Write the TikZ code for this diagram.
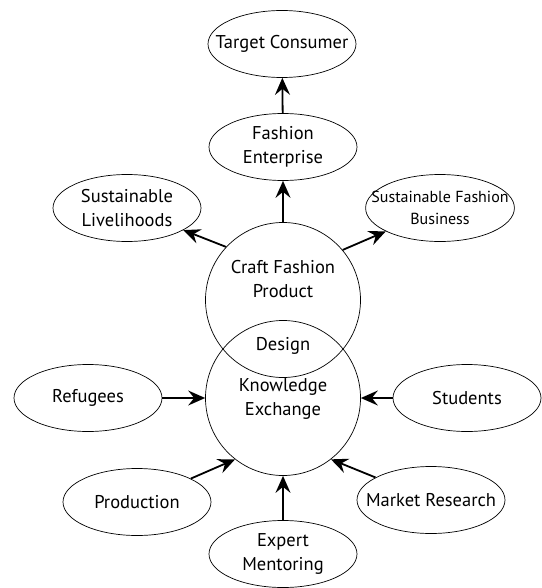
\documentclass[tikz,border=0pt]{standalone}
\usepackage{fontspec}
\setmainfont{PT Sans}
\usetikzlibrary{arrows.meta}
\usetikzlibrary{shapes.geometric, positioning}

\begin{document}
\begin{tikzpicture}[x=1pt,y=-1pt,
    oval node/.style={draw,ellipse,line width=0.7pt,minimum width=148pt,minimum height=67pt,inner xsep=-16pt,inner ysep=-2pt,align=center,font=\fontsize{18.5}{24}\selectfont},
    ring node/.style={draw,circle,line width=0.7pt,minimum size=155pt,inner sep=0pt},
    text node/.style={align=center,font=\fontsize{18.5}{24}\selectfont},
    flow/.style={-{Stealth[length=17pt,width=15pt,inset=6pt]},line width=1.8pt}]
    \useasboundingbox (0,0) rectangle (541,588);

    \node[ring node](cfp) at (283,300) {};
    \node[ring node](ke) at (283,398) {};
    \node[text node](cfptext) at (283,279) {Craft Fashion\\Product};
    \node[text node](design) at (283,346) {Design};
    \node[text node](ketext) at (283,399) {Knowledge\\Exchange};

    \node[oval node](tc) at (282,44) {Target Consumer};
    \node[oval node](fe) at (283,147) {Fashion\\Enterprise};
    \node[oval node](sl) at (127,208) {Sustainable\\Livelihoods};
    \node[oval node,font=\fontsize{16}{22}\selectfont](sfb) at (440,208) {Sustainable Fashion\\Business};
    \node[oval node](ref) at (88,398) {Refugees};
    \node[oval node](stu) at (467,398) {Students};
    \node[oval node](prod) at (137,502) {Production};
    \node[oval node](mr) at (431,500) {Market Research};
    \node[oval node](em) at (283,554) {Expert\\Mentoring};

    \draw[flow] (fe) -- (tc);
    \draw[flow] (cfp) -- (fe);
    \draw[flow] (cfp.137) -- (sl);
    \draw[flow] (cfp.40) -- (sfb);
    \draw[flow] (ref) -- (ke);
    \draw[flow] (stu) -- (ke);
    \draw[flow] (prod) -- (ke.-128);
    \draw[flow] (mr) -- (ke.-52);
    \draw[flow] (em) -- (ke);
\end{tikzpicture}
\end{document}
